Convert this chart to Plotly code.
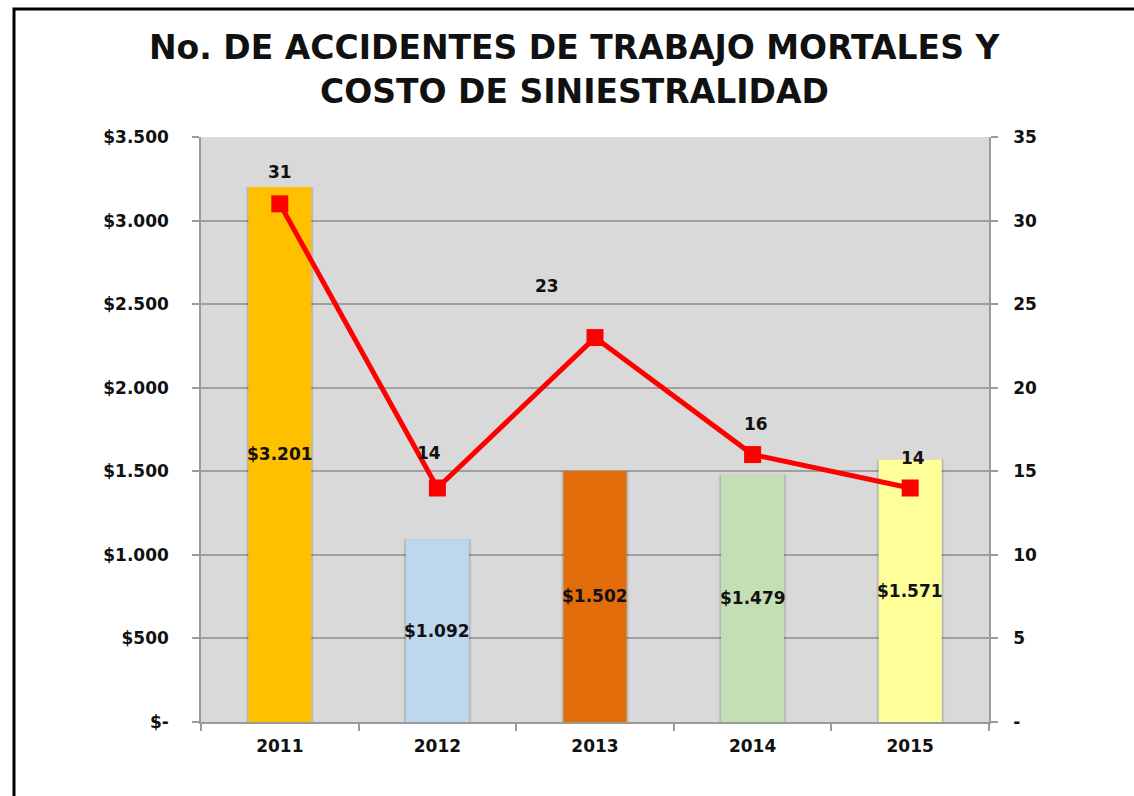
import plotly.graph_objects as go

# Data
years = ["2011", "2012", "2013", "2014", "2015"]
costs = [3201, 1092, 1502, 1479, 1571]          # costo de siniestralidad
deaths = [31, 14, 23, 16, 14]                   # accidentes mortales
bar_colors = ["#FFC000", "#BDD7EE", "#E26B0A", "#C4DFB4", "#FFFF99"]
cost_ticks = [0, 500, 1000, 1500, 2000, 2500, 3000, 3500]
death_ticks = [0, 5, 10, 15, 20, 25, 30, 35]
title_lines = ["No. DE ACCIDENTES DE TRABAJO MORTALES Y", "COSTO DE SINIESTRALIDAD"]


def money(v):
    return "$-" if v == 0 else "$" + f"{v:,}".replace(",", ".")


FONT = "DejaVu Sans"
PLOT_TOP, PLOT_BOTTOM = 137, 722


def paper_y(px):
    """Convert a pixel row to paper coordinates of the plot area."""
    return (PLOT_BOTTOM - px) / (PLOT_BOTTOM - PLOT_TOP)


fig = go.Figure()

# soft shadow at the sides of each column
for w, a in [(0.43, 0.06), (0.418, 0.10)]:
    fig.add_trace(go.Bar(
        x=years, y=costs, width=w,
        marker=dict(color=f"rgba(0,0,0,{a})", line=dict(width=0)),
        showlegend=False, hoverinfo="skip",
    ))

fig.add_trace(go.Bar(
    x=years, y=costs, width=0.4,
    marker=dict(color=bar_colors, line=dict(width=0)),
    showlegend=False, hoverinfo="skip",
))

fig.add_trace(go.Scatter(
    x=years, y=deaths, yaxis="y2", mode="lines+markers",
    line=dict(color="#FF0000", width=5),
    marker=dict(symbol="square", size=17, color="#FF0000"),
    showlegend=False, hoverinfo="skip",
))

label_font = dict(family=FONT, size=17, color="#111111", weight="bold")

# cost labels in the middle of each column
for i, v in enumerate(costs):
    fig.add_annotation(
        x=i, y=v / 2, xref="x", yref="y", text=money(v), showarrow=False,
        font=label_font,
    )

# labels for the line, nudged around each point
label_shift = [(0, 32), (-8, 35), (-48, 52), (3, 31), (3, 30)]
for i, (d, (dx, dy)) in enumerate(zip(deaths, label_shift)):
    fig.add_annotation(
        x=i, y=d, xref="x", yref="y2", text=str(d), showarrow=False,
        xshift=dx, yshift=dy, font=label_font,
    )

# two-line title
for line, py in zip(title_lines, [47, 91]):
    fig.add_annotation(
        x=0.474, y=paper_y(py), xref="paper", yref="paper",
        xanchor="center", yanchor="middle", text=line, showarrow=False,
        font=dict(family=FONT, size=33, color="#111111", weight="bold"),
    )

axis_common = dict(
    showline=True, linecolor="#9a9a9a", linewidth=1.5,
    ticks="outside", ticklen=7, tickcolor="#9a9a9a", tickwidth=1.5,
    tickfont=dict(family=FONT, size=17, color="#111111", weight="bold"),
    zeroline=False, fixedrange=True,
)

fig.update_layout(
    width=1134, height=796,
    margin=dict(l=201, r=145, t=PLOT_TOP, b=796 - PLOT_BOTTOM),
    paper_bgcolor="white", plot_bgcolor="#D9D9D9",
    barmode="overlay",
    xaxis=dict(
        **axis_common, type="category", tickson="boundaries",
        showgrid=False, ticklabelstandoff=8,
    ),
    yaxis=dict(
        **axis_common, range=[0, 3500], tickvals=cost_ticks,
        ticktext=[money(v) for v in cost_ticks],
        showgrid=True, gridcolor="#A0A0A0", gridwidth=1.5,
        ticklabelstandoff=20,
    ),
    yaxis2=dict(
        **axis_common, range=[0, 35], overlaying="y", side="right",
        tickvals=death_ticks,
        ticktext=["-" if v == 0 else str(v) for v in death_ticks],
        showgrid=False, ticklabelstandoff=12,
    ),
    shapes=[dict(
        type="rect", xref="paper", yref="paper",
        x0=-0.2373, x1=1.4, y0=-0.3, y1=paper_y(9),
        line=dict(color="black", width=3), fillcolor="rgba(0,0,0,0)",
        layer="above",
    )],
)

fig.write_html("out.html")
